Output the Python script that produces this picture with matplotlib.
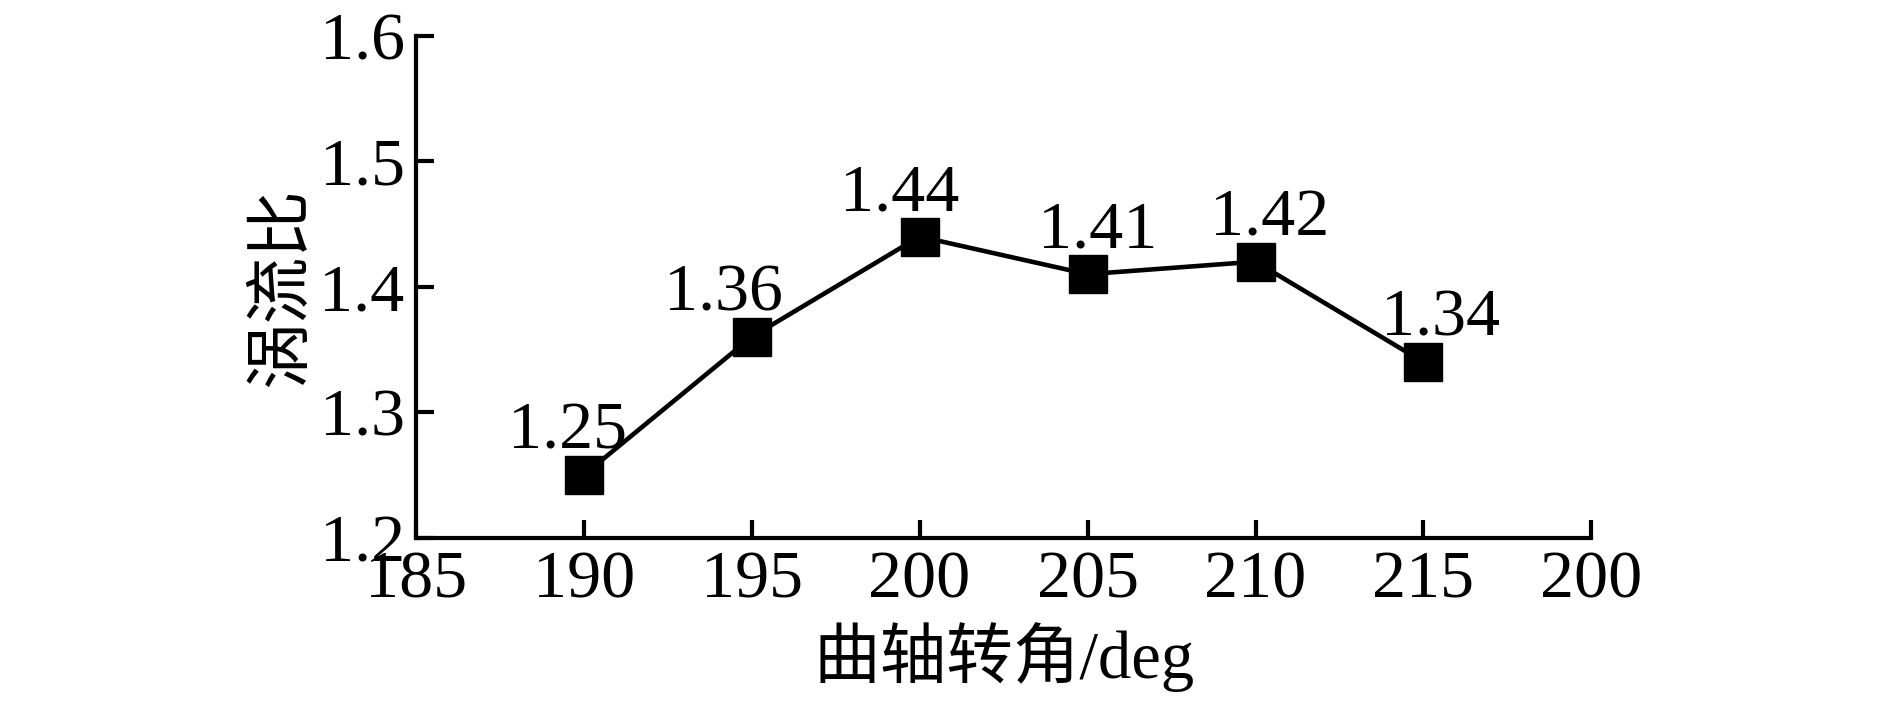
import numpy as np
import matplotlib.pyplot as plt

# 曲轴转角与涡流比数据
crank_angle = [190, 195, 200, 205, 210, 215]
swirl_ratio = [1.25, 1.36, 1.44, 1.41, 1.42, 1.34]
labels = ['1.25', '1.36', '1.44', '1.41', '1.42', '1.34']

x_ticks = [185, 190, 195, 200, 205, 210, 215, 220]
x_ticklabels = ['185', '190', '195', '200', '205', '210', '215', '200']
y_ticks = [1.2, 1.3, 1.4, 1.5, 1.6]

plt.rcParams['font.family'] = ['Liberation Serif', 'Noto Sans CJK SC']

fig = plt.figure(figsize=(18.9, 7.16), dpi=100)
ax = fig.add_axes([0.220, 0.249, 0.622, 0.701])

ax.plot(crank_angle, swirl_ratio, color='black', linewidth=3.3,
        marker='s', markersize=27, markerfacecolor='black',
        markeredgecolor='black', clip_on=False)

# 数据标签
dx = [-12, -20, -14, 7, 10, 12]
for x, y, s, d in zip(crank_angle, swirl_ratio, labels, dx):
    ax.annotate(s, (x, y), xytext=(d, 19), textcoords='offset points',
                ha='center', va='baseline', fontsize=49)

ax.set_xlim(185, 220)
ax.set_ylim(1.2, 1.6)
ax.set_xticks(x_ticks)
ax.set_xticklabels(x_ticklabels)
ax.set_yticks(y_ticks)
ax.set_yticklabels(['%.1f' % v for v in y_ticks])

for side in ['top', 'right']:
    ax.spines[side].set_visible(False)
for side in ['left', 'bottom']:
    ax.spines[side].set_linewidth(3)

ax.tick_params(axis='both', direction='in', length=13, width=3, labelsize=49)
ax.tick_params(axis='x', pad=9)
ax.tick_params(axis='y', pad=8)

ax.set_xlabel('曲轴转角/deg', fontsize=48, labelpad=8)
ax.set_ylabel('涡流比', fontsize=48, labelpad=4)

fig.savefig('out.png', dpi=100)
